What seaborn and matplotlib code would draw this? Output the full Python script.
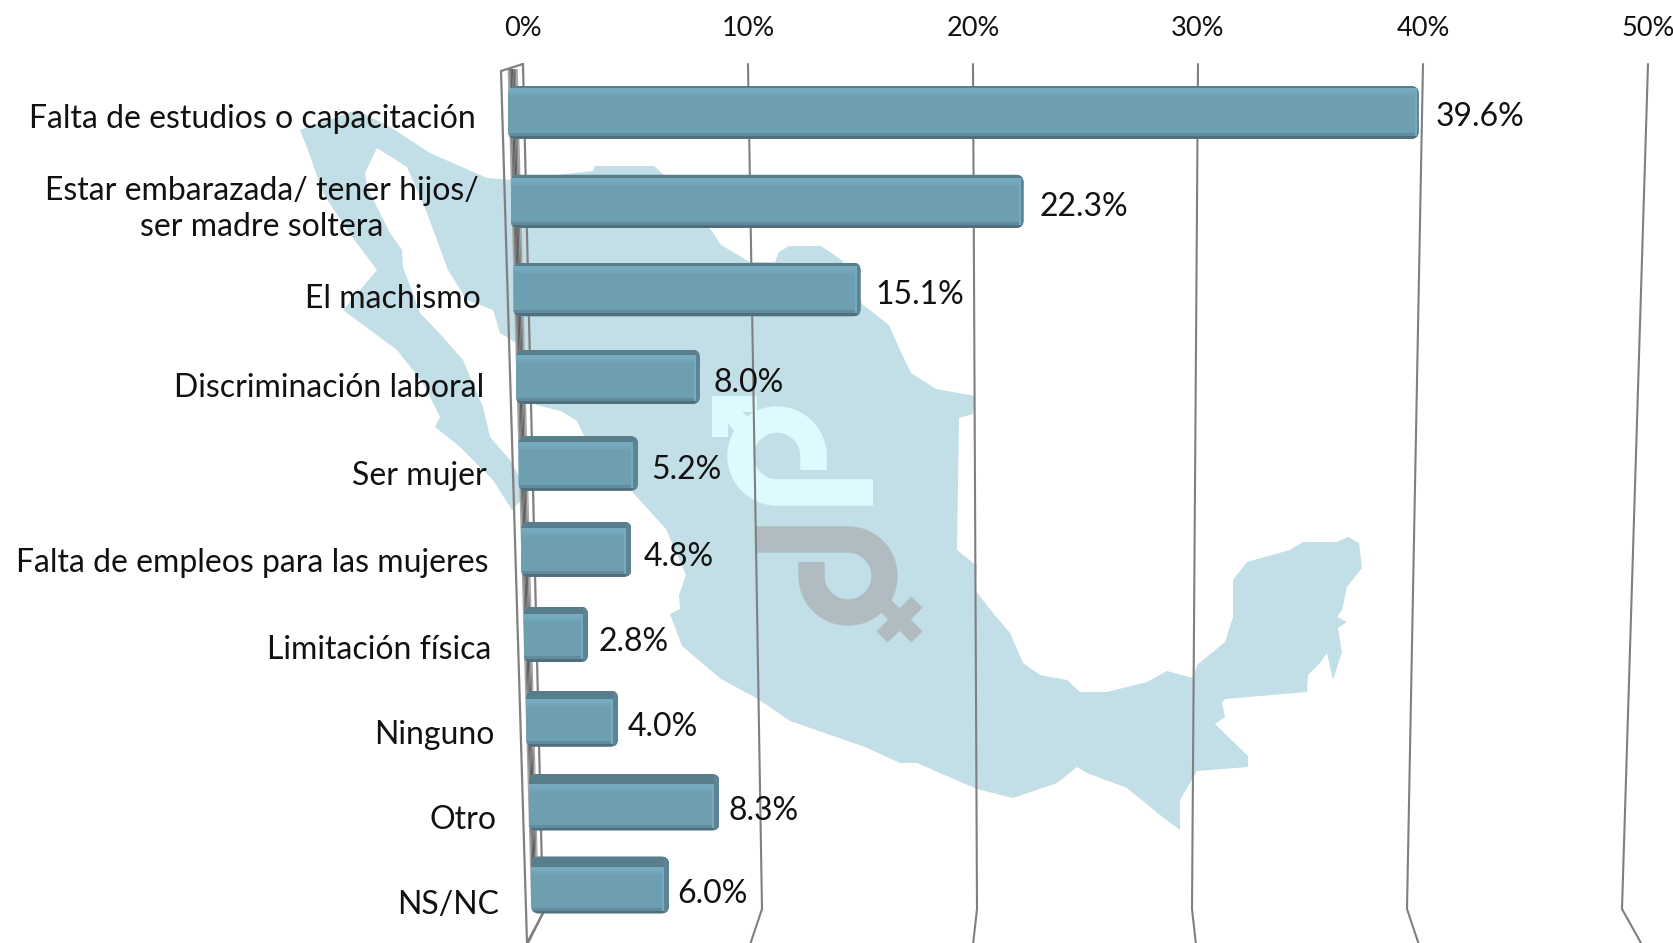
import matplotlib
matplotlib.use('Agg')
import matplotlib.pyplot as plt
import numpy as np
import seaborn as sns
from matplotlib.patches import FancyBboxPatch, Polygon
from matplotlib.transforms import Affine2D

categories = ['Falta de estudios o capacitación', 'Estar embarazada/ tener hijos/\nser madre soltera',
              'El machismo', 'Discriminación laboral', 'Ser mujer',
              'Falta de empleos para las mujeres', 'Limitación física', 'Ninguno', 'Otro', 'NS/NC']
values = [39.6, 22.3, 15.1, 8.0, 5.2, 4.8, 2.8, 4.0, 8.3, 6.0]
ticks = [0, 10, 20, 30, 40, 50]

# outline of the background map, in pixels
map_x = [300, 357, 390, 430, 487, 513, 593, 595, 654, 664, 711, 721, 750, 775, 779, 789, 821, 843, 862, 889, 900,
         911, 936, 975, 973, 959, 957, 977, 975, 993, 1010, 1023, 1040, 1067, 1080, 1107, 1147, 1167, 1193, 1197,
         1225, 1233, 1233, 1247, 1290, 1303, 1337, 1348, 1359, 1362, 1347, 1342, 1337, 1347, 1338, 1342, 1333, 1327,
         1320, 1308, 1307, 1225, 1222, 1225, 1215, 1248, 1248, 1197, 1180, 1180, 1160, 1127, 1087, 1077, 1057, 1013,
         977, 933, 917, 900, 865, 790, 758, 721, 682, 670, 680, 679, 686, 666, 636, 584, 577, 561, 536, 523, 500, 493,
         467, 448, 427, 407, 377, 365, 367, 375, 390, 402, 403, 420, 443, 463, 483, 490, 510, 528, 512, 493, 460, 435,
         440, 423, 397, 343, 377, 347, 323, 308]
map_y = [130, 110, 127, 153, 178, 180, 171, 166, 166, 175, 230, 245, 262, 262, 252, 246, 246, 261, 304, 325, 350,
         373, 389, 396, 414, 418, 550, 566, 590, 613, 633, 663, 675, 680, 692, 692, 682, 671, 678, 665,
         642, 617, 580, 562, 550, 542, 542, 537, 543, 568, 587, 610, 617, 622, 628, 652, 680, 653,
         663, 675, 692, 699, 703, 717, 724, 756, 767, 771, 800, 830, 815, 788, 773, 767, 783, 798,
         789, 770, 763, 763, 747, 721, 699, 679, 646, 614, 609, 595, 575, 529, 496, 436, 421, 411, 405, 347, 333, 310,
         300, 270, 213, 167, 148, 173, 187, 203, 233, 250, 267, 313, 337, 360, 407, 437, 460, 493, 510, 480, 447, 427,
         417, 383, 350, 310, 270, 230, 193, 150]

sns.set_theme(style='white')
plt.rcParams['font.family'] = ['Lato', 'DejaVu Sans']

fig = plt.figure(figsize=(16.74, 9.43), dpi=100)
ax = fig.add_axes([0, 0, 1, 1])
ax.axis('off')
px = Affine2D().scale(1, -1).translate(0, 943)

sns.barplot(x=values, y=categories, orient='h', color='#6E9FB1', saturation=1, width=0.63, linewidth=0, ax=ax, zorder=2)
ax.set_xlim((0 - 508) / 23, (1674 - 508) / 23)
ax.set_ylim(10.0, -1.0)
ax.axis('off')

# map and logo behind everything
ax.add_patch(Polygon(np.column_stack([map_x, map_y]), closed=True, fc='#C2DEE6', ec='none', transform=px, zorder=0.5))

t = np.radians(np.linspace(0, 270, 60))
ax.plot(np.r_[813.5, 777 + 36.5 * np.cos(t), 873], np.r_[470, 456 - 36.5 * np.sin(t), 492.5], color='#DFFAFF', lw=19,
        solid_capstyle='butt', transform=px, zorder=0.6)
ax.add_patch(Polygon([(712, 396), (757, 396), (757, 412), (742, 412), (752, 420), (735, 432), (728, 423), (728, 437),
                      (712, 437)], fc='#DFFAFF', ec='none', transform=px, zorder=0.6))
t = np.radians(np.linspace(180, 450, 60))
ax.plot(np.r_[811.5, 848 + 36.5 * np.cos(t), 756], np.r_[562, 576 - 36.5 * np.sin(t), 539.5], color='#B0BCC2', lw=19,
        solid_capstyle='butt', transform=px, zorder=0.6)
ax.plot([917, 882], [602, 637], color='#B0BCC2', lw=11.5, solid_capstyle='butt', transform=px, zorder=0.6)
ax.plot([883, 917], [603, 637], color='#B0BCC2', lw=11.5, solid_capstyle='butt', transform=px, zorder=0.6)

# side wall
wall_colors = ['#a8a8a8', '#808080', '#646464', '#5c5c5c', '#686868', '#848484', '#a8a8a8']
for k, c in enumerate(wall_colors):
    f0, f1 = 0.30 + k * 0.065, 0.37 + k * 0.065
    ax.fill([501 + 22 * f0, 501 + 22 * f1, 526 + 17 * f1, 526 + 17 * f0], [69, 69, 906, 906], color=c, lw=0,
            transform=px, zorder=0.8)
ax.plot([523, 501, 527, 543, 523], [64, 71, 943, 913, 64], color='#808080', lw=1.6, transform=px, zorder=0.85)
ax.plot([543, 528], [913, 943], color='#808080', lw=1.6, transform=px, zorder=0.85)

# perspective grid lines
for v in ticks[1:]:
    ax.plot([523 + 22.5 * v, 547 + 21.5 * v, 528 + 22.26 * v], [64, 909, 943], color='#7f7f7f', lw=1.5,
            transform=px, zorder=0.9)
for v in ticks:
    ax.text(523 + 22.5 * v, 29, f'{v}%', transform=px, ha='center', va='center', fontsize=19.5, color='#111111', zorder=4)

# rows sit closer together further down, and shift to the right
for i, (bar, name, val) in enumerate(zip(ax.patches, categories, values)):
    cy = 112.5 + 89.28 * i - 0.383 * i ** 2
    lin_y = ax.transData.transform((0, i))[1]
    dx = 0.0298 * (cy - 112.5)
    bar.set_transform(ax.transData + Affine2D().translate(dx, (943 - cy) - lin_y))
    x0 = ax.transData.transform((bar.get_x(), 0))[0] + dx
    x1 = ax.transData.transform((bar.get_x() + bar.get_width(), 0))[0] + dx
    h = 53 + i * 0.45
    top, bot = cy - h / 2, cy + h / 2
    clip = FancyBboxPatch((x0, top), x1 - x0, h, boxstyle='round,pad=0,rounding_size=8', fc='none', ec='none',
                          transform=px, zorder=1.9)
    ax.add_patch(clip)
    bar.set_clip_path(clip)
    face = 2 + i * 0.95
    side = 1.5 + min(i, 4) * 0.9
    strips = [
        (x0, x1, top, top + face, '#587D8B'),
        (x0, x1, top + face, top + face + 4, '#76ABBF'),
        (x0, x1, top + face + 4, top + face + 7, '#72A5B8'),
        (x0, x1, bot - 6, bot - 3, '#628C9D'),
        (x0, x1, bot - 3, bot, '#4F6F7C'),
        (x1 - side - 2, x1 - side, top + face, bot - 3, '#76ABBF'),
        (x1 - side, x1, top, bot, '#5C8495'),
    ]
    for a, b, c, d, col in strips:
        s = ax.fill([a, b, b, a], [c, c, d, d], color=col, lw=0, transform=px, zorder=2.1)[0]
        s.set_clip_path(clip)
    ax.text(x1 + 17 - i, cy + 5 + 0.45 * i, f'{val:.1f}%', transform=px, ha='left', va='center', fontsize=23,
            color='#111111', zorder=4)
    ax.text(476 + 2.6 * i, cy + 6.5 + 1.45 * i, name, transform=px, ha='right', va='center', multialignment='center',
            fontsize=23, color='#111111', linespacing=1.25, zorder=4)

fig.savefig('out.png', dpi=100)
